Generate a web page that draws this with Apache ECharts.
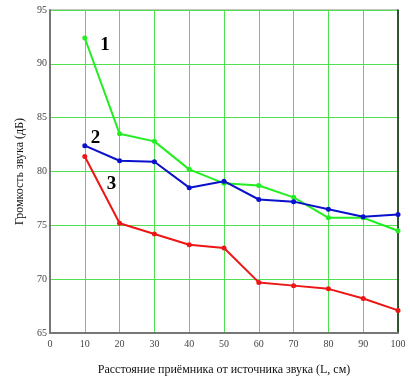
<!DOCTYPE html>
<html>
<head>
<meta charset="utf-8">
<script src="https://cdn.jsdelivr.net/npm/echarts@6/dist/echarts.min.js"></script>
<style>
  html, body { margin: 0; padding: 0; background: #fff; }
  #chart { width: 410px; height: 382px; }
</style>
</head>
<body>
<div id="chart"></div>
<script>
const distances = [10, 20, 30, 40, 50, 60, 70, 80, 90, 100];
const series1 = [92.4, 83.5, 82.8, 80.2, 78.9, 78.7, 77.6, 75.7, 75.7, 74.5];
const series2 = [82.4, 81.0, 80.9, 78.5, 79.1, 77.4, 77.2, 76.5, 75.8, 76.0];
const series3 = [81.4, 75.2, 74.2, 73.2, 72.9, 69.7, 69.4, 69.1, 68.2, 67.1];
const curveNames = ["1", "2", "3"];
const curveLabelAt = [[15.8, 91.7], [13.1, 83.1], [17.7, 78.8]];
const colors = ["#22ee22", "#0a10cc", "#ee1515"];

const chart = echarts.init(document.getElementById("chart"));
const font = "'Liberation Serif', 'DejaVu Serif', serif";

const makeSeries = (values, idx) => ({
  name: curveNames[idx],
  type: "line",
  data: distances.map((d, i) => [d, values[i]]),
  symbol: "circle",
  symbolSize: 5,
  lineStyle: { color: colors[idx], width: 2 },
  itemStyle: { color: colors[idx] },
  z: 3 + idx,
  markPoint: {
    symbol: "circle",
    symbolSize: 0,
    data: [{ coord: curveLabelAt[idx] }],
    label: {
      show: true,
      formatter: curveNames[idx],
      color: "#000",
      fontFamily: font,
      fontWeight: "bold",
      fontSize: 19,
    },
  },
});

chart.setOption({
  animation: false,
  grid: {
    left: 50,
    right: 12,
    top: 10,
    bottom: 49,
    show: true,
    borderColor: "#888",
    borderWidth: 1,
  },
  xAxis: [
    {
      type: "value",
      min: 0,
      max: 100,
      interval: 10,
      name: "Расстояние приёмника от источника звука (L, см)",
      nameLocation: "middle",
      nameGap: 31,
      nameTextStyle: { fontFamily: font, fontSize: 12, color: "#111" },
      axisLine: { lineStyle: { color: "#777", width: 2 } },
      axisTick: { show: false },
      axisLabel: { fontFamily: font, fontSize: 10, color: "#444", margin: 6 },
      splitLine: { lineStyle: { color: "#4ee04e", width: 1 } },
    },
  ],
  yAxis: [
    {
      type: "value",
      min: 65,
      max: 95,
      interval: 5,
      name: "Громкость звука (дБ)",
      nameLocation: "middle",
      nameGap: 24,
      nameTextStyle: { fontFamily: font, fontSize: 12, color: "#111" },
      axisLine: { show: true, lineStyle: { color: "#777", width: 2 } },
      axisTick: { show: false },
      axisLabel: { fontFamily: font, fontSize: 10, color: "#444", margin: 3 },
      splitLine: { lineStyle: { color: "#4ee04e", width: 1 } },
    },
    {
      type: "value",
      min: 65,
      max: 95,
      position: "right",
      axisLine: { show: true, lineStyle: { color: "#222", width: 1.5 } },
      axisTick: { show: false },
      axisLabel: { show: false },
      splitLine: { show: false },
    },
  ],
  series: [makeSeries(series1, 0), makeSeries(series2, 1), makeSeries(series3, 2)],
});
</script>
</body>
</html>
